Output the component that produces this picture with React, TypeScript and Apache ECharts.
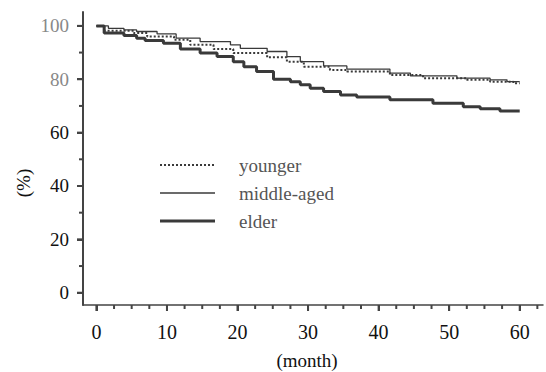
import React, { useEffect, useRef } from "react";
import * as echarts from "echarts";

const seriesNames = ["younger", "middle-aged", "elder"];

const youngerT = [0, 1.1, 5.3, 7.2, 11, 13.3, 16.6, 19.4, 24.2, 27, 29.4, 33.1, 35.5, 41.6, 46.3, 52.5, 55.8, 59.1, 60];
const youngerV = [100, 98.2, 97.3, 96, 94.8, 92.9, 91.3, 89.8, 88.2, 86.6, 84.7, 83.5, 82.9, 81.6, 80.4, 79.8, 79.1, 78.5, 78.5];

const middleT = [0, 1.7, 3.9, 5.7, 8.6, 11.3, 14.7, 19, 20.4, 24.2, 27, 28.9, 32.2, 35.5, 41.6, 44.5, 51.1, 55.8, 58.2, 60];
const middleV = [100, 99.1, 98.5, 97.9, 97, 95.4, 94.1, 92.9, 91.6, 90.4, 88.5, 86.6, 85, 83.8, 82.3, 81.3, 80.4, 79.8, 79.1, 79.1];

const elderT = [0, 1.1, 3.9, 5.7, 6.9, 9.5, 11.9, 14.7, 17.1, 19.4, 20.9, 22.7, 25.1, 27.5, 28.9, 30.3, 32.2, 34.6, 36.9, 41.6, 47.7, 52, 54.4, 57.2, 60];
const elderV = [100, 97.3, 96.4, 95.4, 94.5, 93.5, 91.3, 89.8, 88.5, 86.6, 84.7, 82.9, 80, 79.1, 77.9, 76.6, 75.4, 74.1, 73.3, 72.3, 71, 69.7, 68.9, 68.1, 68.1];

const xMajorTicks = [0, 10, 20, 30, 40, 50, 60];
const xMinorTicks = [2.5, 5, 7.5, 12.5, 15, 17.5, 22.5, 25, 27.5, 32.5, 35, 37.5, 42.5, 45, 47.5, 52.5, 55, 57.5, 62.5];
const yMajorTicks = [0, 20, 40, 60, 80, 100];
const yMinorTicks = [10, 30, 50, 70, 90];
const greyLabels = [80, 100];

const xTitle = "(month)";
const yTitle = "(%)";

const zip = (t: number[], v: number[]) => t.map((x, i) => [x, v[i]]);

export default function App() {
  const ref = useRef<HTMLDivElement>(null);
  useEffect(() => {
    if (!ref.current) return;
    const chart = echarts.init(ref.current, undefined, { renderer: "svg" });
    const serif = "'Liberation Serif', 'DejaVu Serif', serif";
    const axisColor = "#444";
    const lineColor = "#3a3a3a";
    const xRange = { min: -1.9, max: 63.3 };
    const yRange = { min: -4.6, max: 105.2 };
    const styles = [
      { color: lineColor, width: 2, type: [2, 2] as any },
      { color: lineColor, width: 1.3, type: "solid" as any },
      { color: lineColor, width: 3, type: "solid" as any },
    ];
    chart.setOption({
      animation: false,
      backgroundColor: "#fff",
      grid: { left: 83, right: 3, top: 12, bottom: 67 },
      xAxis: {
        type: "value",
        ...xRange,
        splitLine: { show: false },
        axisLine: { show: true, onZero: false, lineStyle: { color: axisColor, width: 1.5 } },
        axisTick: { show: true, customValues: xMajorTicks, length: 6, lineStyle: { color: axisColor, width: 2 } },
        axisLabel: {
          customValues: xMajorTicks,
          margin: 17,
          fontFamily: serif,
          fontSize: 20,
          color: "#111",
        },
      },
      yAxis: {
        type: "value",
        ...yRange,
        splitLine: { show: false },
        axisLine: { show: true, onZero: false, lineStyle: { color: axisColor, width: 2 } },
        axisTick: { show: true, customValues: yMajorTicks, length: 6, lineStyle: { color: axisColor, width: 2 } },
        axisLabel: {
          customValues: yMajorTicks,
          margin: 14,
          fontFamily: serif,
          fontSize: 19,
          color: (v: number) => (greyLabels.includes(Number(v)) ? "#888" : "#111"),
        },
      },
      series: [
        {
          name: seriesNames[0],
          type: "line",
          step: "end",
          symbol: "none",
          data: zip(youngerT, youngerV),
          lineStyle: styles[0],
          itemStyle: { color: lineColor },
          z: 4,
        },
        {
          name: seriesNames[1],
          type: "line",
          step: "end",
          symbol: "none",
          data: zip(middleT, middleV),
          lineStyle: styles[1],
          itemStyle: { color: lineColor },
          z: 3,
        },
        {
          name: seriesNames[2],
          type: "line",
          step: "end",
          symbol: "none",
          data: zip(elderT, elderV),
          lineStyle: styles[2],
          itemStyle: { color: lineColor },
          z: 2,
        },
      ],
    });

    // Minor and major tick marks placed through the chart's own scales
    const toX = (v: number) => Number(chart.convertToPixel({ xAxisIndex: 0 }, v));
    const toY = (v: number) => Number(chart.convertToPixel({ yAxisIndex: 0 }, v));
    const axisY = toY(yRange.min);
    const axisX = toX(xRange.min);
    const tickStyle = { stroke: axisColor, lineWidth: 2 };
    const tickGraphics: any[] = [];
    const addX = (vals: number[], len: number) =>
      vals.forEach((v) => {
        const px = toX(v);
        if (!isFinite(px) || !isFinite(axisY)) return;
        tickGraphics.push({ type: "line", silent: true, z: 10, shape: { x1: px, y1: axisY, x2: px, y2: axisY + len }, style: tickStyle });
      });
    const addY = (vals: number[], len: number) =>
      vals.forEach((v) => {
        const py = toY(v);
        if (!isFinite(py) || !isFinite(axisX)) return;
        tickGraphics.push({ type: "line", silent: true, z: 10, shape: { x1: axisX - len, y1: py, x2: axisX, y2: py }, style: tickStyle });
      });
    addX(xMajorTicks, 6);
    addX(xMinorTicks, 4);
    addY(yMajorTicks, 6);
    addY(yMinorTicks, 4);

    const legendLeft = 160;
    const legendTop = 165;
    const legendStep = 28;
    const legendGraphics: any[] = [];
    seriesNames.forEach((name, i) => {
      const y = legendTop + i * legendStep;
      legendGraphics.push({
        type: "line",
        shape: { x1: legendLeft, y1: y, x2: legendLeft + 55, y2: y },
        style: { stroke: styles[i].color, lineWidth: styles[i].width, lineDash: i === 0 ? [2, 2] : null },
      });
      legendGraphics.push({
        type: "text",
        x: legendLeft + 79,
        y,
        style: {
          text: name,
          fontFamily: serif,
          fontSize: 19,
          fill: "#555",
          align: "left",
          verticalAlign: "middle",
        },
      });
    });

    chart.setOption({
      graphic: [
        ...tickGraphics,
        ...legendGraphics,
        {
          type: "text",
          x: 307,
          y: 360,
          style: {
            text: xTitle,
            fontFamily: serif,
            fontSize: 19,
            fill: "#111",
            align: "center",
            verticalAlign: "middle",
          },
        },
        {
          type: "text",
          x: 23,
          y: 183,
          rotation: Math.PI / 2,
          style: {
            text: yTitle,
            fontFamily: serif,
            fontSize: 19,
            fill: "#111",
            align: "center",
            verticalAlign: "middle",
          },
        },
      ],
    });
    return () => chart.dispose();
  }, []);
  return <div ref={ref} style={{ width: 546, height: 372, position: "fixed", left: 0, top: 0 }} />;
}
